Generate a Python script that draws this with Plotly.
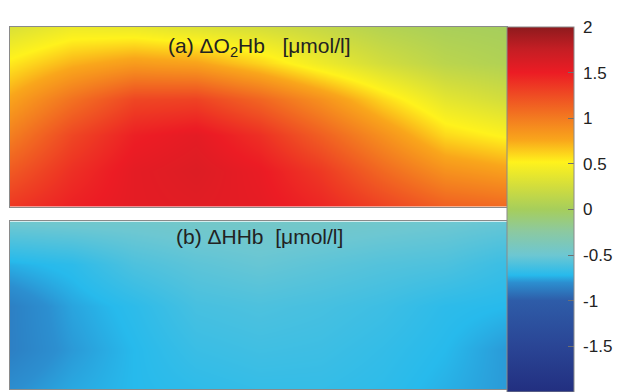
import plotly.graph_objects as go

# ---------------- data ----------------
x_cols = [0, 1, 2, 3, 4, 5, 6, 7, 8]          # horizontal sample positions
y_rows_a = [0, 1, 2, 3, 4, 5]                 # panel (a) rows, top -> bottom
y_rows_b = [0, 1, 2, 3, 4]                    # panel (b) rows, top -> bottom

o2hb = [
    [0.30, 0.42, 0.40, 0.33, 0.27, 0.18, 0.08, 0.02, 0.00],
    [0.55, 0.72, 0.82, 0.78, 0.62, 0.42, 0.25, 0.12, 0.06],
    [0.78, 1.05, 1.28, 1.30, 1.12, 0.88, 0.60, 0.36, 0.25],
    [0.98, 1.28, 1.48, 1.55, 1.40, 1.15, 0.88, 0.60, 0.50],
    [1.18, 1.40, 1.55, 1.60, 1.52, 1.35, 1.10, 0.88, 0.80],
    [1.36, 1.48, 1.55, 1.57, 1.54, 1.45, 1.30, 1.15, 1.10],
]

hhb = [
    [-0.48, -0.47, -0.47, -0.45, -0.45, -0.45, -0.47, -0.49, -0.52],
    [-0.74, -0.70, -0.60, -0.55, -0.52, -0.55, -0.58, -0.60, -0.66],
    [-0.86, -0.76, -0.70, -0.62, -0.60, -0.62, -0.65, -0.70, -0.72],
    [-0.86, -0.78, -0.72, -0.66, -0.64, -0.65, -0.68, -0.72, -0.78],
    [-0.80, -0.75, -0.72, -0.70, -0.68, -0.68, -0.70, -0.74, -0.78],
]

cbar_ticks = [-2, -1.5, -1, -0.5, 0, 0.5, 1, 1.5, 2]
cbar_ticktext = ["-2", "-1.5", "-1", "-0.5", "0", "0.5", "1", "1.5", "2"]

label_a = "(a) ΔO<sub>2</sub>Hb\u00a0\u00a0\u00a0[μmol/l]"
label_b = "(b) ΔHHb\u00a0\u00a0[μmol/l]"

colorscale = [
    [0.000, "#222f80"],
    [0.125, "#2a4595"],
    [0.250, "#2e5ca8"],
    [0.300, "#2c8fd0"],
    [0.320, "#27baec"],
    [0.375, "#6dc7d2"],
    [0.440, "#8cc9a0"],
    [0.500, "#a6ce5c"],
    [0.560, "#d0dc3e"],
    [0.630, "#fff21c"],
    [0.690, "#f9a61b"],
    [0.750, "#f37b20"],
    [0.810, "#ef4e23"],
    [0.875, "#ec1c24"],
    [0.940, "#c41e24"],
    [1.000, "#8e1a1d"],
]

# ---------------- figure ----------------
# the page body adds an 8px offset, so the figure is laid out 8px up/left
W, H = 613, 384
mt, mb, ml, mr = 19, 0, 2, 114
plot_h = H - mt - mb
cbar_len = 368 / plot_h
cmin, cmax = -2, 2

fig = go.Figure()
fig.add_trace(go.Heatmap(x=x_cols, y=y_rows_a, z=o2hb, zsmooth="best",
                         coloraxis="coloraxis", xaxis="x", yaxis="y",
                         hoverinfo="skip"))
fig.add_trace(go.Heatmap(x=x_cols, y=y_rows_b, z=hhb, zsmooth="best",
                         coloraxis="coloraxis", xaxis="x2", yaxis="y2",
                         hoverinfo="skip"))

top_bottom_px = 200   # figure px of panel (a) bottom edge
bot_top_px = 215      # figure px of panel (b) top edge
dom_a = [(H - top_bottom_px) / plot_h, 1.0]
dom_b = [0.0, (H - bot_top_px) / plot_h]

axis_common = dict(showgrid=False, zeroline=False, showticklabels=False,
                   ticks="", showline=True, linecolor="#8a8a8a", linewidth=1,
                   mirror=True)

fig.update_layout(
    width=W, height=H,
    margin=dict(l=ml, r=mr, t=mt, b=mb, pad=0),
    paper_bgcolor="white", plot_bgcolor="white",
    xaxis=dict(domain=[0, 1], range=[0, 8], anchor="y", **axis_common),
    yaxis=dict(domain=dom_a, range=[5, 0], anchor="x", **axis_common),
    xaxis2=dict(domain=[0, 1], range=[0, 8], anchor="y2", **axis_common),
    yaxis2=dict(domain=dom_b, range=[3.93, 0], anchor="x2", **axis_common),
    coloraxis=dict(
        colorscale=colorscale, cmin=cmin, cmax=cmax,
        colorbar=dict(
            thickness=67, thicknessmode="pixels",
            len=cbar_len, lenmode="fraction",
            x=1.0, xanchor="left", xpad=0,
            y=1.0, yanchor="top", ypad=0,
            tickvals=cbar_ticks,
            ticktext=["\u00a0" + t for t in cbar_ticktext],
            ticks="inside", ticklen=6, tickcolor="#6f6f6f",
            tickfont=dict(family="Liberation Sans, Arial", size=17, color="#222222"),
            outlinewidth=1, outlinecolor="#8a8a8a",
        ),
    ),
    showlegend=False,
)

# matching tick marks on the left (inner) edge of the colour bar
for v in cbar_ticks[1:-1]:
    yp = 1 - (cmax - v) / (cmax - cmin) * cbar_len
    fig.add_shape(type="line", xref="paper", yref="paper",
                  x0=1.0, x1=1.0 + 6 / (W - ml - mr), y0=yp, y1=yp,
                  line=dict(color="#6f6f6f", width=1))

fig.add_annotation(text=label_a, xref="x", yref="y", x=4.02, y=0.55,
                   showarrow=False, xanchor="center", yanchor="middle",
                   font=dict(family="Liberation Sans, Arial", size=21, color="#222222"))
fig.add_annotation(text=label_b, xref="x2", yref="y2", x=4.02, y=0.36,
                   showarrow=False, xanchor="center", yanchor="middle",
                   font=dict(family="Liberation Sans, Arial", size=21, color="#222222"))

fig.write_html("out.html")
